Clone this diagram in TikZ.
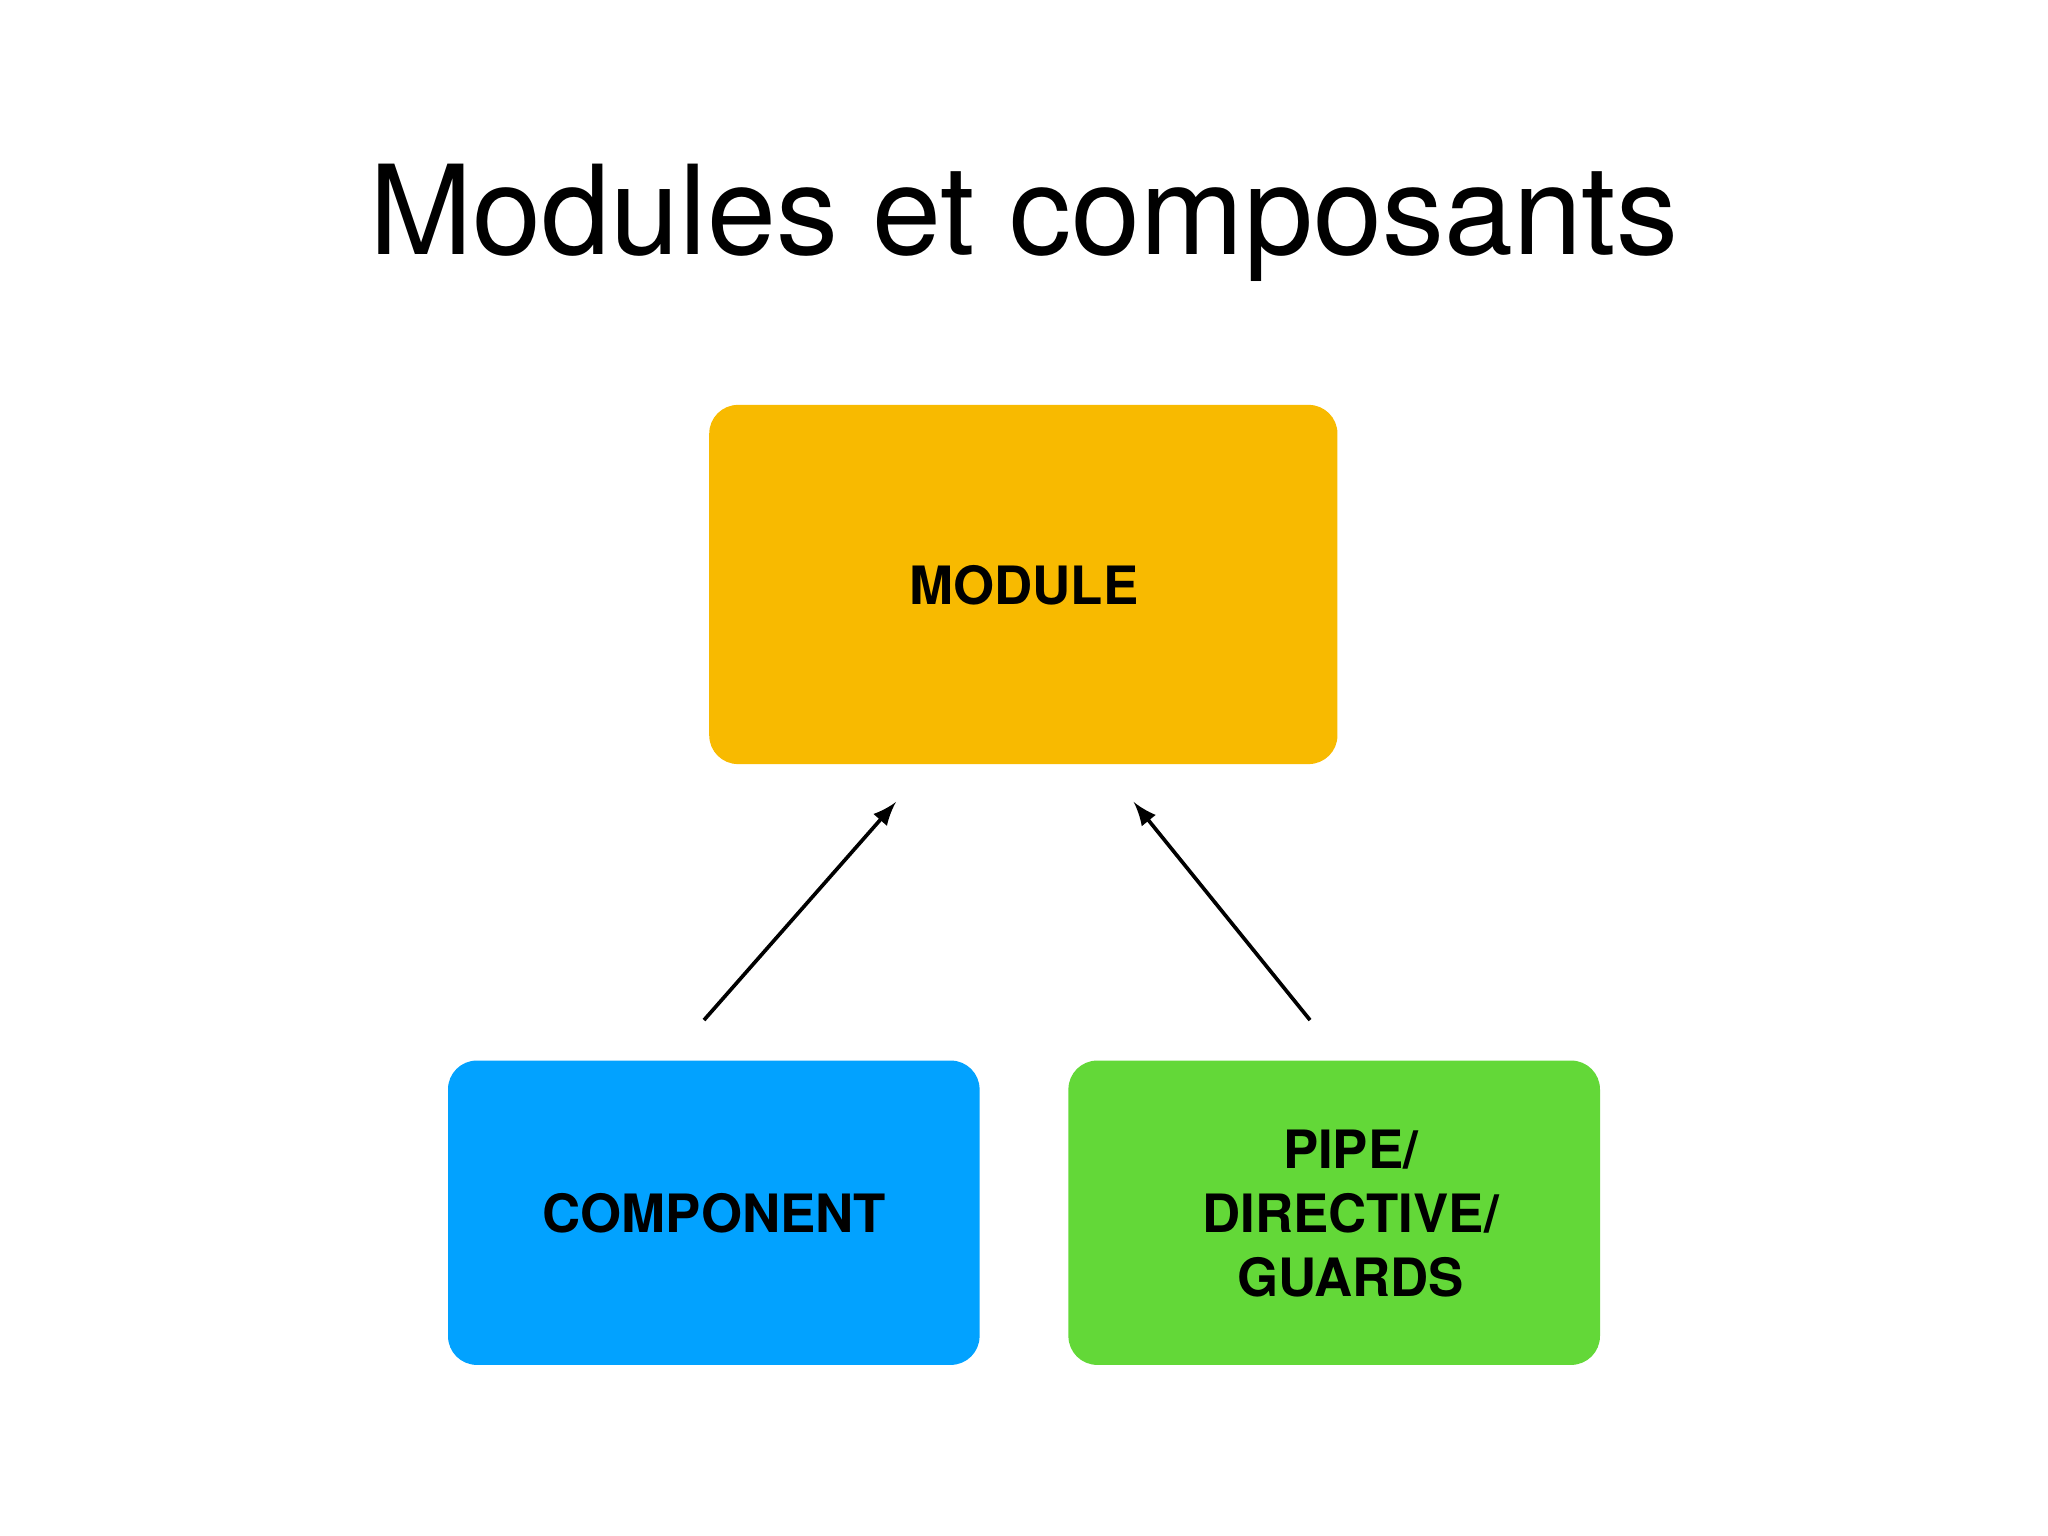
\documentclass[tikz,border=0pt]{standalone}
\usepackage{fontspec}
\setmainfont{TeX Gyre Heros}
\begin{document}
\begin{tikzpicture}[x=0.01cm,y=-0.01cm,
  box/.style={rounded corners=0.22cm,inner sep=0pt},
  lbl/.style={font=\fontsize{11.5}{14}\selectfont\bfseries,align=center},
  arr/.style={-latex,line width=0.8pt}]
\useasboundingbox (0,0) rectangle (1568,1176);
\node[font=\fontsize{27}{32}\selectfont,anchor=base] (title) at (784,195) {Modules et composants};
\fill[box,fill={rgb,255:red,248;green,186;blue,0}] (543,310) rectangle (1024,585);
\fill[box,fill={rgb,255:red,2;green,162;blue,255}] (343,812) rectangle (750,1045);
\fill[box,fill={rgb,255:red,99;green,216;blue,56}] (818,812) rectangle (1225,1045);
\node[lbl] (mod) at (784,448) {MODULE};
\node[lbl] (comp) at (547,929) {COMPONENT};
\node[lbl] (pipe) at (1034,929) {PIPE/\\DIRECTIVE/\\GUARDS};
\coordinate (a1) at (539,781); \coordinate (a2) at (686,614);
\coordinate (b1) at (1003,781); \coordinate (b2) at (868,614);
\draw[arr] (a1) -- (a2);
\draw[arr] (b1) -- (b2);
\end{tikzpicture}
\end{document}
